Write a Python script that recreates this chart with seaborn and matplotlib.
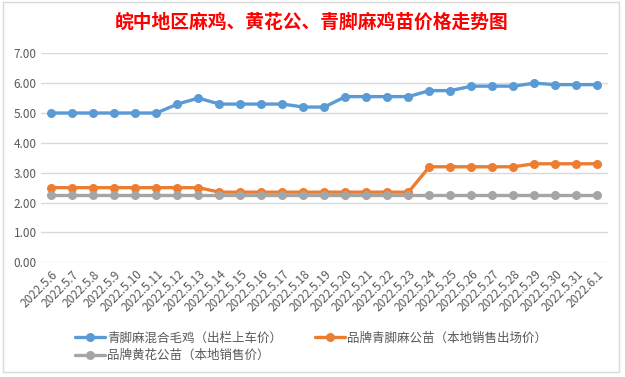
import pandas as pd
import numpy as np
import seaborn as sns
import matplotlib.pyplot as plt
from matplotlib.patches import Rectangle

# 皖中地区麻鸡、黄花公、青脚麻鸡苗价格走势图

dates = ['2022.5.6', '2022.5.7', '2022.5.8', '2022.5.9', '2022.5.10', '2022.5.11',
         '2022.5.12', '2022.5.13', '2022.5.14', '2022.5.15', '2022.5.16', '2022.5.17',
         '2022.5.18', '2022.5.19', '2022.5.20', '2022.5.21', '2022.5.22', '2022.5.23',
         '2022.5.24', '2022.5.25', '2022.5.26', '2022.5.27', '2022.5.28', '2022.5.29',
         '2022.5.30', '2022.5.31', '2022.6.1']

qingjiao = [5.00, 5.00, 5.00, 5.00, 5.00, 5.00, 5.30, 5.50, 5.30, 5.30, 5.30, 5.30,
            5.20, 5.20, 5.55, 5.55, 5.55, 5.55, 5.75, 5.75, 5.90, 5.90, 5.90, 6.00,
            5.95, 5.95, 5.95]
pinpai_qingjiao = [2.50, 2.50, 2.50, 2.50, 2.50, 2.50, 2.50, 2.50, 2.35, 2.35, 2.35, 2.35,
                   2.35, 2.35, 2.35, 2.35, 2.35, 2.35, 3.20, 3.20, 3.20, 3.20, 3.20, 3.30,
                   3.30, 3.30, 3.30]
huanghua = [2.25] * 27

names = ['青脚麻混合毛鸡（出栏上车价）', '品牌青脚麻公苗（本地销售出场价）', '品牌黄花公苗（本地销售价）']
colors = ['#5B9BD5', '#ED7D31', '#A5A5A5']

sns.set_theme(style='white')
plt.rcParams['font.family'] = ['Noto Sans CJK SC', 'DejaVu Sans']

fig = plt.figure(figsize=(6.25, 3.77), dpi=100)
fig.patches.append(Rectangle((0.005, 0.012), 0.985, 0.982, transform=fig.transFigure,
                             fill=False, edgecolor='#D9D9D9', linewidth=1))
ax = fig.add_axes([0.0656, 0.3042, 0.907, 0.5544])

pos = np.arange(len(dates))
handles = {}
for name, vals, c in zip(names, [qingjiao, pinpai_qingjiao, huanghua], colors):
    df = pd.DataFrame({'x': pos, 'y': vals})
    sns.lineplot(data=df, x='x', y='y', ax=ax, color=c, linewidth=2.4,
                 marker='o', markersize=6.5, markeredgewidth=0, label=name, legend=False)
    handles[name] = ax.lines[-1]

ax.set_xlim(-0.5, len(dates) - 0.5)
ax.set_ylim(0, 7)
ax.set_yticks(np.arange(0, 7.5, 1))
ax.set_yticklabels([f'{v:.2f}' for v in np.arange(0, 7.5, 1)], fontsize=8.5, color='#595959')
ax.set_xticks(pos)
ax.set_xticklabels(dates, rotation=45, ha='right', rotation_mode='anchor',
                   fontsize=8.5, color='#595959')
ax.tick_params(axis='both', length=0, pad=3)
ax.tick_params(axis='x', pad=4)
ax.yaxis.grid(True, color='#D9D9D9', linewidth=1)
ax.set_axisbelow(True)
for s in ax.spines.values():
    s.set_visible(False)
ax.set_xlabel('')
ax.set_ylabel('')

fig.text(0.4987, 0.942, '皖中地区麻鸡、黄花公、青脚麻鸡苗价格走势图', ha='center', va='center',
         fontsize=13.5, color='#FF0000', fontweight='bold')

order = [names[0], names[2], names[1]]
fig.legend([handles[n] for n in order], order, ncol=2, loc='center',
           bbox_to_anchor=(0.4976, 0.08), frameon=False, fontsize=9, handlelength=2.4,
           columnspacing=2.6, handletextpad=0.2, labelspacing=0.35, labelcolor='#595959',
           borderpad=0)

fig.savefig('out.png', dpi=100)
